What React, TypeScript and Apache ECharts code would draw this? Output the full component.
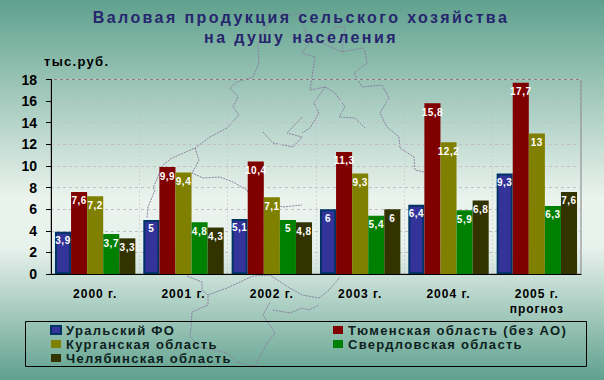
import React, { useEffect, useRef } from "react";
import * as echarts from "echarts";

const categories = ["2000 г.", "2001 г.", "2002 г.", "2003 г.", "2004 г.", "2005 г.\nпрогноз"];
const ural = [3.9, 5, 5.1, 6, 6.4, 9.3];
const tyumen = [7.6, 9.9, 10.4, 11.3, 15.8, 17.7];
const kurgan = [7.2, 9.4, 7.1, 9.3, 12.2, 13];
const sverdlovsk = [3.7, 4.8, 5, 5.4, 5.9, 6.3];
const chelyabinsk = [3.3, 4.3, 4.8, 6, 6.8, 7.6];

const NAMES = ["Уральский ФО", "Тюменская область (без АО)", "Курганская область", "Свердловская область", "Челябинская область"];
const FONT = '"Liberation Sans", Arial, sans-serif';

// Decorative map outline behind the chart
const mapLines: number[][][] = [
  [[280,12],[290,15],[300,13],[309,43],[302,53],[315,57],[310,90],[325,87],[314,103],[319,113],[310,128],[302,133]],
  [[270,20],[258,45],[258,50],[259,63],[253,77],[237,82],[230,88],[238,97],[233,107],[239,115],[227,128],[210,137],[195,148],[172,158],[163,165],[153,188],[155,190],[148,207],[147,218]],
  [[195,148],[199,160],[192,173],[203,178],[220,177],[233,182],[247,190],[250,197],[283,207],[302,205]],
  [[263,132],[273,143],[293,147],[302,137],[287,133],[302,117]],
  [[325,87],[335,93],[345,107],[339,117],[355,118],[365,128]],
  [[342,52],[362,48],[365,50],[367,63],[354,73],[362,87],[382,85],[389,98],[380,113],[387,127],[399,137],[400,148],[414,157],[415,170],[424,172]],
  [[302,40],[322,43],[342,52],[345,27],[335,27],[322,43]],
  [[187,276],[202,282],[202,290],[208,295],[208,305],[192,312],[191,327],[190,337],[200,347],[227,353],[237,362],[255,367],[262,353],[267,343],[275,333],[263,315],[270,302]],
  [[208,295],[227,288],[253,276],[270,275],[288,287],[302,295],[319,298],[329,290],[340,277]],
  [[273,310],[290,313],[302,308],[309,310],[319,305]],
];

const label = {
  show: true,
  position: "insideTop" as const,
  distance: 4,
  color: "#ffffff",
  fontFamily: FONT,
  fontWeight: "bold" as const,
  fontSize: 10,
  formatter: (p: any) => String(p.value).replace(".", ","),
};

function bar(name: string, data: number[], color: string, border?: string) {
  return {
    name,
    type: "bar" as const,
    data,
    barGap: "0%",
    barCategoryGap: "9%",
    itemStyle: border ? { color, borderColor: border, borderWidth: 2 } : { color },
    label,
  };
}

const legendText = { fontFamily: FONT, fontWeight: "bold" as const, fontSize: 13, color: "#0d1f20" };

export default function App() {
  const ref = useRef<HTMLDivElement>(null);
  useEffect(() => {
    document.body.style.margin = "0";
    const chart = echarts.init(ref.current!, null, { renderer: "svg" });
    chart.setOption({
      animation: false,
      backgroundColor: "transparent",
      title: [
        {
          text: "Валовая продукция сельского хозяйства\nна душу населения",
          left: 296,
          top: 2,
          textAlign: "center",
          textStyle: { fontFamily: FONT, fontWeight: "bold", fontSize: 16, color: "#26266e", lineHeight: 20 },
        },
        {
          text: "тыс.руб.",
          left: 39,
          top: 50,
          textStyle: { fontFamily: FONT, fontWeight: "bold", fontSize: 13, color: "#000000" },
        },
      ],
      grid: { left: 51, right: 23, top: 79.5, bottom: 106, show: true, borderColor: "#808080", borderWidth: 1, backgroundColor: "transparent" },
      legend: [
        {
          data: [NAMES[0], NAMES[2], NAMES[4]],
          orient: "vertical",
          left: 50,
          top: 323,
          icon: "rect",
          itemWidth: 10,
          itemHeight: 8,
          itemGap: 0,
          padding: 0,
          textStyle: { ...legendText, lineHeight: 14 },
        },
        {
          data: [NAMES[1], NAMES[3]],
          orient: "vertical",
          left: 333,
          top: 323,
          icon: "rect",
          itemWidth: 10,
          itemHeight: 8,
          itemGap: 0,
          padding: 0,
          textStyle: { ...legendText, lineHeight: 14 },
        },
      ],
      xAxis: {
        type: "category",
        data: categories,
        axisLine: { lineStyle: { color: "#000000", width: 1 } },
        axisTick: { length: 5, lineStyle: { color: "#000000" } },
        axisLabel: { fontFamily: FONT, fontWeight: "bold", fontSize: 12, color: "#000000", margin: 12, lineHeight: 15, interval: 0 },
        splitLine: { show: true, lineStyle: { color: "#bcb8c0", type: [1, 3] } },
      },
      yAxis: {
        type: "value",
        min: 0,
        max: 18,
        interval: 2,
        axisLine: { show: true, lineStyle: { color: "#000000", width: 1 } },
        axisTick: { show: true, length: 5, lineStyle: { color: "#000000" } },
        axisLabel: { fontFamily: FONT, fontWeight: "bold", fontSize: 14, color: "#000000", margin: 14 },
        splitLine: { show: true, lineStyle: { color: "#c4bfc6", type: [3, 3] } },
      },
      series: [
        bar(NAMES[0], ural, "#333399", "#003366"),
        bar(NAMES[1], tyumen, "#800000"),
        bar(NAMES[2], kurgan, "#808000"),
        bar(NAMES[3], sverdlovsk, "#008000"),
        bar(NAMES[4], chelyabinsk, "#333300"),
      ],
      graphic: [
        ...mapLines.map((points) => ({
          type: "polyline",
          silent: true,
          z: 0,
          shape: { points },
          style: { fill: "none", stroke: "#8a80a0", lineWidth: 1, lineDash: [2, 1] },
        })),
        {
          type: "rect",
          silent: true,
          z: 0,
          shape: { x: 25.5, y: 321.5, width: 561, height: 45 },
          style: { fill: "none", stroke: "#000000", lineWidth: 1 },
        },
      ],
    });
    return () => chart.dispose();
  }, []);
  return (
    <>
      <style>{`
        #chart text { letter-spacing: 0; }
        #chart text[style*="16px"] { letter-spacing: 2.4px; }
        #chart text[style*="13px"] { letter-spacing: 1.3px; }
        #chart text[style*="12px"] { letter-spacing: 1px; }
        #chart text[style*="10px"] { letter-spacing: 0.5px; }
      `}</style>
      <div
        id="chart"
        ref={ref}
        style={{
          width: 604,
          height: 380,
          background: "linear-gradient(180deg, #5fa18d 0%, #eaf3ee 52%, #e8f2ed 65%, #5fa18d 100%)",
        }}
      />
    </>
  );
}
